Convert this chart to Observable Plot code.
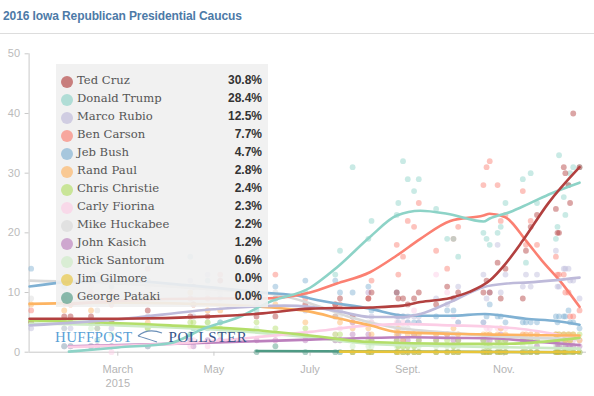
<!DOCTYPE html>
<html><head><meta charset="utf-8">
<script src="https://cdn.jsdelivr.net/npm/d3@7"></script>
<script src="https://cdn.jsdelivr.net/npm/@observablehq/plot@0.6"></script>
<style>
body{margin:0;background:#fff;width:594px;height:396px;overflow:hidden;position:relative;font-family:"Liberation Sans",Arial,sans-serif}
#title{position:absolute;left:3px;top:9px;font-size:12px;font-weight:bold;color:#4d7aa7;letter-spacing:-0.1px}
#rule{position:absolute;left:0;top:33px;width:594px;height:1px;background:#ddd}
#chart{position:absolute;left:0;top:34px}
#legend{position:absolute;left:56px;top:64px;width:212px;height:243px;background:rgba(239,239,239,0.9)}
.row{position:absolute;left:0;width:212px;height:18px}
.dotl{position:absolute;left:5px;top:3.5px;width:12px;height:12px;border-radius:50%}
.name{position:absolute;left:21px;top:1px;font-family:"DejaVu Serif","Liberation Serif",serif;font-size:11.6px;color:#555;white-space:nowrap}
.val{position:absolute;right:6px;top:1px;font-weight:bold;font-size:12px;color:#333}
#logo{position:absolute;left:55px;top:329px;font-family:"Liberation Serif",serif;font-size:15px;white-space:nowrap}
#logo .h{color:#5a9fd6;letter-spacing:0.3px}
#logo .p{color:#36558a;letter-spacing:0.6px}
</style></head>
<body>
<div id="title"></div>
<div id="rule"></div>
<div id="chart"></div>
<div id="legend"></div>
<div id="logo"><span class="h">HUFFPOST</span><svg width="30" height="14" style="vertical-align:-1px;margin:0 2px 0 4px"><path d="M2,7 C9,1 18,1 26,4 M2,7 C9,9 15,11 21,13" fill="none" stroke="#6a8fb8" stroke-width="1.3"/></svg><span class="p">POLLSTER</span></div>
<script>
const titleText = "2016 Iowa Republican Presidential Caucus";
const candidates = ["Ted Cruz","Donald Trump","Marco Rubio","Ben Carson","Jeb Bush","Rand Paul","Chris Christie","Carly Fiorina","Mike Huckabee","John Kasich","Rick Santorum","Jim Gilmore","George Pataki"];
const colors = ["#b2403f","#8dd3c7","#bebada","#fb8072","#80b1d3","#fdb462","#b3de69","#fccde5","#d9d9d9","#bc80bd","#ccebc5","#e8c53a","#4e9a84"];
const finalValues = ["30.8%","28.4%","12.5%","7.7%","4.7%","2.8%","2.4%","2.3%","2.2%","1.2%","0.6%","0.0%","0.0%"];
const tickDates = ["2015-03-01","2015-05-01","2015-07-01","2015-09-01","2015-11-01"];
const tickLabels = ["March\n2015","May","July","Sept.","Nov."];
const yTicks = [0,10,20,30,40,50];

const pollDates = ["2015-01-05","2015-01-26","2015-01-30","2015-02-12","2015-02-16","2015-02-25","2015-03-20","2015-04-16","2015-04-18","2015-04-27","2015-05-05","2015-05-28","2015-06-09","2015-06-28","2015-07-17","2015-07-20","2015-07-28","2015-08-07","2015-08-09","2015-08-25","2015-08-26","2015-08-29","2015-09-01","2015-09-05","2015-09-08","2015-09-19","2015-09-26","2015-09-30","2015-10-03","2015-10-19","2015-10-21","2015-10-23","2015-10-28","2015-10-30","2015-11-02","2015-11-13","2015-11-15","2015-11-18","2015-11-22","2015-12-04","2015-12-05","2015-12-06","2015-12-09","2015-12-10","2015-12-12","2015-12-13","2015-12-15","2015-12-19"];
const pollCruz     = [5,6,6,6,5,5,7,6,8,6,12,6,6,8,8,9,6,9,10,10,9,9,8,9,10,8,11,9,10,10,12,10,15,9,14,9,17,21,23,24,20,20,31,30,28,25,40,31];
const pollTrump    = [null,1,1,1,2,1,1,3,4,4,5,7,9,10,13,17,31,19,22,23,25,32,29,27,29,24,19,19,16,20,19,18,20,21,25,29,15,30,25,19,21,33,26,23,28,30,31,31];
const pollRubio    = [4,4,4,5,4,4,6,12,6,13,9,8,9,7,6,7,5,10,6,6,5,6,6,6,6,9,8,9,11,13,9,10,18,10,13,11,13,11,13,17,11,11,14,14,14,12,12,9];
const pollCarson   = [7,9,8,10,9,8,14,9,11,9,13,10,13,9,8,8,5,9,12,18,13,16,22,21,25,17,14,19,21,28,31,32,28,22,23,27,18,22,18,16,13,13,13,10,10,6,6,7];
const pollBush     = [14,11,12,12,13,11,12,16,11,12,5,9,11,12,12,10,10,11,7,10,6,6,5,5,5,6,7,7,5,5,6,8,6,6,5,5,5,5,5,6,5,6,6,6,7,5,5,4];
const pollPaul     = [8,7,8,7,9,10,5,10,8,7,7,9,8,5,6,5,4,4,3,3,4,2,3,3,3,3,3,4,3,3,3,3,3,4,3,3,3,3,3,3,2,3,3,2,3,2,3,2];
const pollChristie = [5,5,5,5,4,5,4,5,5,5,4,5,4,4,3,3,2,2,2,2,1,1,1,1,2,2,2,1,2,2,1,1,2,2,2,2,2,2,2,3,2,3,3,2,3,2,3,3];
const pollFiorina  = [null,1,1,1,1,0,1,1,2,1,2,2,2,3,3,4,2,10,5,5,6,5,5,7,5,13,10,6,5,5,4,4,4,4,4,3,3,3,3,3,2,2,3,2,2,3,2,2];
const pollHuckabee = [9,13,13,11,7,12,11,11,9,10,10,11,10,7,6,6,6,5,5,4,3,4,4,3,3,3,3,3,3,2,2,3,2,2,2,2,2,2,2,2,2,2,2,2,2,2,2,2];
const pollKasich   = [null,1,1,1,1,1,1,2,1,2,2,2,2,2,2,2,3,3,2,2,3,2,2,3,2,2,3,2,2,2,2,2,2,3,2,2,2,2,1,2,1,1,2,1,1,1,1,1];
const pollSantorum = [5,4,5,4,5,3,4,3,4,5,3,4,3,3,2,2,1,1,1,1,1,1,1,1,1,1,1,1,1,1,1,1,1,1,1,1,0,1,1,1,1,1,1,1,0,0,1,0];
const pollGilmore  = [null,null,null,null,null,null,null,null,null,null,null,null,null,null,null,null,0,0,0,0,0,0,0,0,0,0,0,0,0,0,0,0,0,0,0,0,0,0,0,0,0,0,0,0,0,0,0,0];
const pollPataki   = [null,null,null,null,null,null,null,null,null,null,null,0,1,0,0,0,0,0,0,0,null,0,0,0,0,0,0,0,0,0,0,0,0,0,0,0,0,0,0,0,0,0,0,0,0,0,0,0];

const trendCruz     = [["2015-01-04",5.6],["2015-03-01",5.6],["2015-05-01",6.0],["2015-06-01",6.5],["2015-07-01",7.3],["2015-08-08",7.5],["2015-08-29",7.8],["2015-09-09",8.4],["2015-09-28",9.1],["2015-10-10",10.1],["2015-10-23",12.0],["2015-11-02",14.8],["2015-11-13",18.7],["2015-11-29",24.9],["2015-12-19",31.0]];
const trendTrump    = [["2015-01-29",0.1],["2015-03-01",0.8],["2015-04-03",1.5],["2015-04-24",3.9],["2015-05-17",5.9],["2015-06-05",8.4],["2015-07-01",10.8],["2015-07-18",14.2],["2015-08-08",19.3],["2015-08-25",22.9],["2015-09-09",23.7],["2015-09-26",23.2],["2015-10-19",21.9],["2015-10-23",22.4],["2015-11-05",23.5],["2015-11-17",24.9],["2015-12-01",26.6],["2015-12-19",28.4]];
const trendRubio    = [["2015-01-04",4.5],["2015-03-01",5.5],["2015-05-01",7.2],["2015-06-15",7.8],["2015-07-01",7.6],["2015-07-20",6.8],["2015-08-08",5.9],["2015-08-29",5.9],["2015-09-09",6.4],["2015-09-28",8.4],["2015-10-19",10.9],["2015-11-03",11.5],["2015-11-17",11.7],["2015-12-19",12.5]];
const trendCarson   = [["2015-01-26",8.0],["2015-03-01",8.6],["2015-05-01",9.0],["2015-06-01",9.0],["2015-07-01",10.0],["2015-07-18",11.5],["2015-08-08",13.4],["2015-08-25",16.2],["2015-09-09",19.0],["2015-09-28",22.0],["2015-10-19",22.9],["2015-10-23",23.2],["2015-11-02",22.6],["2015-11-15",18.7],["2015-11-25",15.4],["2015-12-08",11.5],["2015-12-19",7.6]];
const trendBush     = [["2015-01-04",11.0],["2015-01-26",11.7],["2015-03-01",12.0],["2015-04-15",11.2],["2015-06-01",10.0],["2015-06-25",9.4],["2015-07-01",9.0],["2015-08-08",7.3],["2015-08-31",6.1],["2015-09-28",6.1],["2015-10-20",6.4],["2015-11-15",5.6],["2015-12-05",5.2],["2015-12-19",4.6]];
const trendPaul     = [["2015-01-04",8.1],["2015-03-01",8.3],["2015-05-01",8.0],["2015-06-01",7.6],["2015-07-01",6.8],["2015-07-20",5.6],["2015-08-08",4.5],["2015-08-25",3.4],["2015-09-28",3.1],["2015-12-19",2.8]];
const trendChristie = [["2015-01-04",5.3],["2015-04-03",4.5],["2015-06-01",3.6],["2015-07-01",2.8],["2015-08-08",1.7],["2015-09-28",1.4],["2015-11-01",1.4],["2015-12-19",2.4]];
const trendFiorina  = [["2015-01-29",0.9],["2015-04-03",1.4],["2015-07-01",3.4],["2015-08-08",4.5],["2015-09-03",4.7],["2015-09-28",4.5],["2015-10-23",4.3],["2015-11-12",3.9],["2015-12-19",2.3]];
const trendHuckabee = [["2015-01-04",12.0],["2015-03-01",11.5],["2015-05-01",10.5],["2015-06-13",9.5],["2015-07-03",8.0],["2015-07-25",6.0],["2015-08-20",4.3],["2015-10-01",3.2],["2015-11-01",2.6],["2015-12-19",2.2]];
const trendKasich   = [["2015-01-29",1.0],["2015-04-03",1.4],["2015-07-01",2.1],["2015-09-03",2.5],["2015-09-28",2.4],["2015-10-27",2.3],["2015-11-24",1.7],["2015-12-19",1.2]];
const trendSantorum = [["2015-01-04",4.8],["2015-03-01",4.5],["2015-05-01",3.8],["2015-07-01",2.5],["2015-08-08",1.4],["2015-09-28",1.0],["2015-12-19",0.6]];
const trendGilmore  = [["2015-07-20",0.1],["2015-12-19",0.0]];
const trendPataki   = [["2015-05-28",0.2],["2015-12-19",0.0]];

const polls = [pollCruz,pollTrump,pollRubio,pollCarson,pollBush,pollPaul,pollChristie,pollFiorina,pollHuckabee,pollKasich,pollSantorum,pollGilmore,pollPataki];
const trends = [trendCruz,trendTrump,trendRubio,trendCarson,trendBush,trendPaul,trendChristie,trendFiorina,trendHuckabee,trendKasich,trendSantorum,trendGilmore,trendPataki];

const parse = d3.utcParse("%Y-%m-%d");
const dotData = [];
const lineData = [];
for (let i = candidates.length - 1; i >= 0; i--) {
  polls[i].forEach((v, j) => { if (v != null) dotData.push({date: parse(pollDates[j]), value: v, cand: candidates[i]}); });
  trends[i].forEach(([d, v]) => lineData.push({date: parse(d), value: v, cand: candidates[i]}));
}

document.getElementById("title").textContent = titleText;

const x0 = new Date(Date.UTC(2015,0,3,17));
const x1 = new Date(Date.UTC(2015,11,23,10));
const labelOf = new Map(tickDates.map((d,i)=>[+parse(d), tickLabels[i]]));

const chart = Plot.plot({
  width: 594, height: 362,
  marginTop: 19.3, marginBottom: 44.3, marginLeft: 28.6, marginRight: 8,
  style: {fontFamily: "'Liberation Sans', Arial, sans-serif", fontSize: "11px", background: "transparent"},
  x: {type: "utc", domain: [x0, x1]},
  y: {domain: [0, 50]},
  color: {domain: candidates, range: colors},
  marks: [
    Plot.ruleY([0], {stroke: "#c9c9c9"}),
    Plot.ruleX([x0], {y1: 0, y2: 50, stroke: "#c9c9c9"}),
    Plot.axisY({ticks: yTicks, tickSize: 4, tickPadding: 5, stroke: "#c9c9c9", color: "#bbb", label: null}),
    Plot.axisX({ticks: tickDates.map(parse), tickFormat: d => labelOf.get(+d), tickSize: 4, tickPadding: 7, stroke: "#c9c9c9", color: "#b5b5b5", label: null, lineHeight: 1.25}),
    Plot.dot(dotData, {x: "date", y: "value", fill: "cand", r: 2.9, fillOpacity: 0.47}),
    Plot.line(lineData, {x: "date", y: "value", stroke: "cand", z: "cand", strokeWidth: 2.6, curve: "monotone-x"})
  ]
});
document.getElementById("chart").appendChild(chart);

const legend = document.getElementById("legend");
candidates.forEach((c, i) => {
  const row = document.createElement("div");
  row.className = "row";
  row.style.top = (8 + 18 * i) + "px";
  const dot = document.createElement("div");
  dot.className = "dotl";
  dot.style.background = colors[i];
  dot.style.opacity = 0.65;
  const name = document.createElement("div");
  name.className = "name"; name.textContent = c;
  const val = document.createElement("div");
  val.className = "val"; val.textContent = finalValues[i];
  row.append(dot, name, val);
  legend.appendChild(row);
});
</script>
</body></html>
